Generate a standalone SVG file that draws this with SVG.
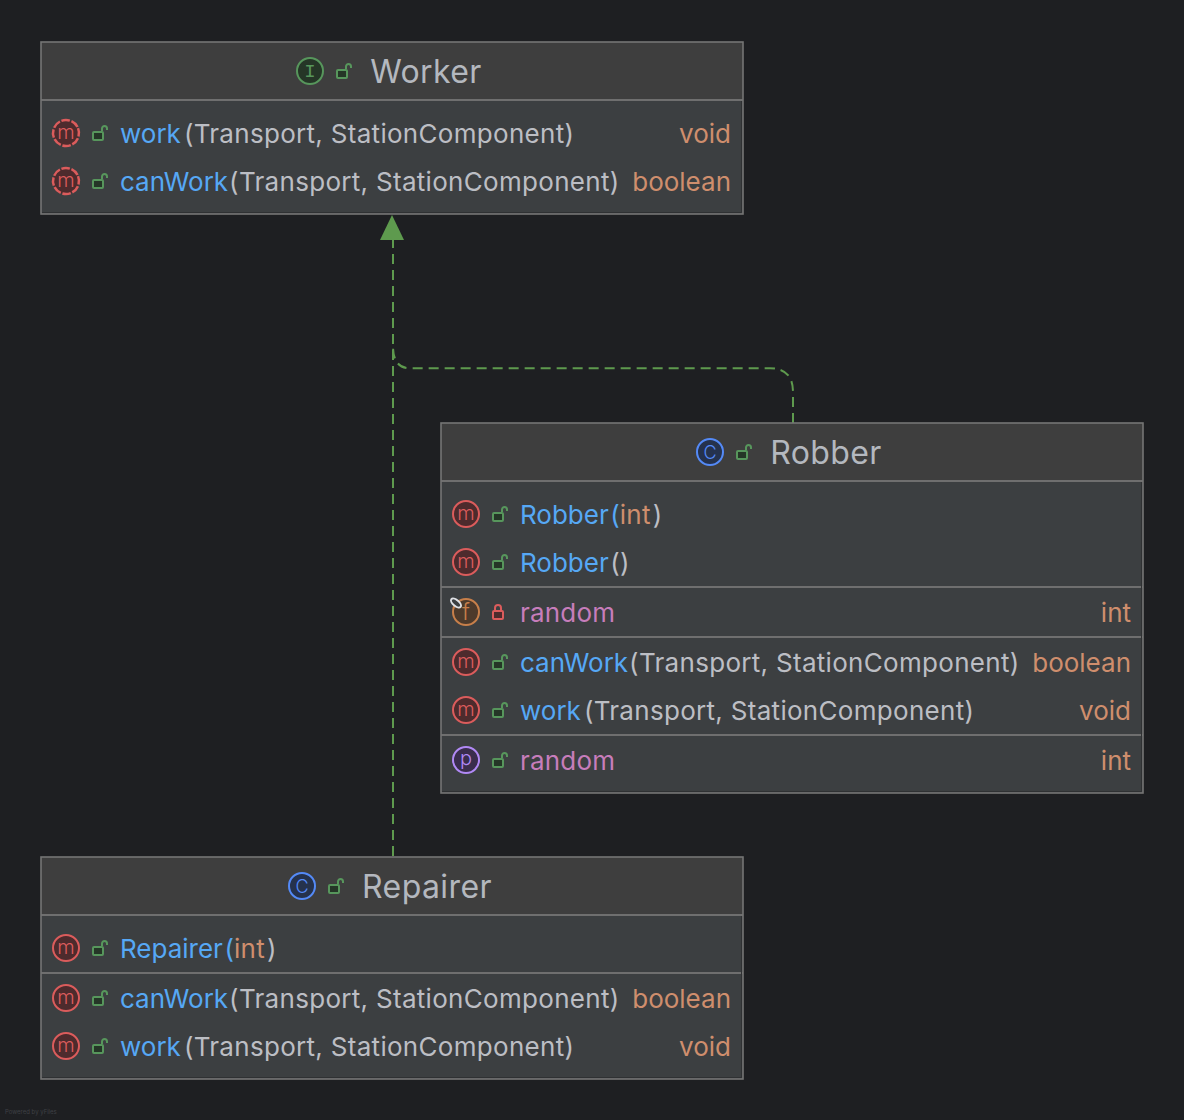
<svg xmlns="http://www.w3.org/2000/svg" width="1184" height="1120" viewBox="0 0 1184 1120">
<style>
text{font-family:Inter,"Liberation Sans",sans-serif;font-size:26px;fill:#bcbec4}
.t{font-size:32px;text-anchor:middle;fill:#b4b8bf;letter-spacing:.4px}
.p{letter-spacing:.3px}
.n{fill:#56a8f5;letter-spacing:0}.r{fill:#cf8e6d}.e{text-anchor:end}.f{fill:#c77dbb;letter-spacing:.2px}
.b{fill:#3c3f41;stroke:none}.h{fill:#3e3e3e}.o{fill:none;stroke:#757575;stroke-width:1.600}
.d{stroke:#6f6f6f;stroke-width:2}
.i{fill:none;stroke:#2f3133;stroke-width:1}
.g{font-size:20px;text-anchor:middle;font-weight:300}
.gm{fill:#db5c5c}.gc{fill:#548af7;font-size:18px}
.c{fill:none;stroke:#5e9a4e;stroke-width:2;stroke-dasharray:10 6}
</style>
<defs>
<g id="lock"><path d="M2 -3V-5.500a2.500 2.500 0 0 1 5 0V-4" fill="none" stroke="#57965c" stroke-width="2"/><rect x="-7" y="-2" width="10" height="8" rx="1" fill="#253627" stroke="#57965c" stroke-width="2"/></g>
<g id="m"><circle r="13" fill="#4d2b2d" stroke="#db5c5c" stroke-width="2"/><text class="g gm" y="6">m</text></g>
<g id="am"><circle r="13" fill="#4d2b2d" stroke="#db5c5c" stroke-width="2.500" stroke-dasharray="8.500 1.700" transform="rotate(-22)"/><text class="g gm" y="6">m</text></g>
</defs>
<rect width="1184" height="1120" fill="#1e1f22"/>
<g id="connectors">
<path class="c" d="M393 856V238"/>
<path class="c" d="M793 423V392Q793 368.300 770 368.300H410Q393 368.300 393 346"/>
<path d="M392 215L404 240H380Z" fill="#5e9a4e"/>
</g>
<g id="worker">
<rect class="b" x="41" y="42" width="702" height="172"/><rect class="h" x="41" y="42" width="702" height="58"/>
<path class="d" d="M41 100H743"/><path class="i" d="M741.500 101V212.500H42"/><rect class="o" x="41" y="42" width="702" height="172"/>
<circle cx="310" cy="71" r="13" fill="#253627" stroke="#57965c" stroke-width="2"/><text class="g" x="310" y="77" style="fill:#57965c;font-family:'Liberation Mono',monospace;font-size:19px;font-weight:400">I</text>
<use href="#lock" x="344" y="72"/><text class="t" x="426" y="83">Worker</text>
<use href="#am" x="66" y="133"/><use href="#lock" x="100" y="134"/>
<text class="p" x="120" y="143"><tspan class="n">work</tspan><tspan dx="3">(</tspan>Transport, StationComponent)</text><text class="r e" x="731" y="143">void</text>
<use href="#am" x="66" y="181"/><use href="#lock" x="100" y="182"/>
<text class="p" x="120" y="191"><tspan class="n">canWork</tspan><tspan dx="1">(</tspan>Transport, StationComponent)</text><text class="r e" x="731" y="191">boolean</text>
</g>
<g id="robber">
<rect class="b" x="441" y="423" width="702" height="370"/><rect class="h" x="441" y="423" width="702" height="58"/>
<path class="d" d="M441 481H1143M441 587H1143M441 637H1143M441 735H1143"/><path class="i" d="M1141.500 482V791.500H442"/><rect class="o" x="441" y="423" width="702" height="370"/>
<circle cx="710" cy="452" r="13" fill="#25324d" stroke="#548af7" stroke-width="2"/><text class="g gc" x="710" y="458.500">C</text>
<use href="#lock" x="744" y="453"/><text class="t" x="826" y="464">Robber</text>
<use href="#m" x="466" y="514"/><use href="#lock" x="500" y="515"/>
<text class="p" x="520" y="524"><tspan class="n">Robber</tspan><tspan class="n" dx="1.500">(</tspan><tspan class="r">int</tspan><tspan dx="2">)</tspan></text>
<use href="#m" x="466" y="562"/><use href="#lock" x="500" y="563"/>
<text class="p" x="520" y="572"><tspan class="n">Robber</tspan><tspan dx="1.500">()</tspan></text>
<circle cx="466" cy="612" r="13" fill="#4d3a2b" stroke="#c77f4a" stroke-width="2"/><text class="g" x="466" y="620" style="fill:#c77f4a;font-size:23px">f</text>
<path d="M452 600L459 605" stroke="#dfe1e5" stroke-width="2"/><ellipse cx="456" cy="603" rx="6" ry="3" transform="rotate(40 456 603)" fill="#3c3f41" stroke="#dfe1e5" stroke-width="2"/>
<rect x="493" y="611" width="10" height="8" rx="1" fill="#4d2b2d" stroke="#db5c5c" stroke-width="2"/><path d="M495 611V608a3 3 0 0 1 6 0V611" fill="none" stroke="#db5c5c" stroke-width="2"/>
<text class="f" x="520" y="622">random</text><text class="r e" x="1131" y="622">int</text>
<use href="#m" x="466" y="662"/><use href="#lock" x="500" y="663"/>
<text class="p" x="520" y="672"><tspan class="n">canWork</tspan><tspan dx="1">(</tspan>Transport, StationComponent)</text><text class="r e" x="1131" y="672">boolean</text>
<use href="#m" x="466" y="710"/><use href="#lock" x="500" y="711"/>
<text class="p" x="520" y="720"><tspan class="n">work</tspan><tspan dx="3">(</tspan>Transport, StationComponent)</text><text class="r e" x="1131" y="720">void</text>
<circle cx="466" cy="760" r="13" fill="#3a2d4d" stroke="#b189f5" stroke-width="2"/><text class="g" x="466" y="765" style="fill:#b189f5">p</text>
<use href="#lock" x="500" y="761"/>
<text class="f" x="520" y="770">random</text><text class="r e" x="1131" y="770">int</text>
</g>
<g id="repairer">
<rect class="b" x="41" y="857" width="702" height="222"/><rect class="h" x="41" y="857" width="702" height="58"/>
<path class="d" d="M41 915H743M41 973H743"/><path class="i" d="M741.500 916V1077.500H42"/><rect class="o" x="41" y="857" width="702" height="222"/>
<circle cx="302" cy="886" r="13" fill="#25324d" stroke="#548af7" stroke-width="2"/><text class="g gc" x="302" y="892.500">C</text>
<use href="#lock" x="336" y="887"/><text class="t" x="427" y="898">Repairer</text>
<use href="#m" x="66" y="948"/><use href="#lock" x="100" y="949"/>
<text class="p" x="120" y="958"><tspan class="n">Repairer</tspan><tspan class="n" dx="1.500">(</tspan><tspan class="r">int</tspan><tspan dx="2">)</tspan></text>
<use href="#m" x="66" y="998"/><use href="#lock" x="100" y="999"/>
<text class="p" x="120" y="1008"><tspan class="n">canWork</tspan><tspan dx="1">(</tspan>Transport, StationComponent)</text><text class="r e" x="731" y="1008">boolean</text>
<use href="#m" x="66" y="1046"/><use href="#lock" x="100" y="1047"/>
<text class="p" x="120" y="1056"><tspan class="n">work</tspan><tspan dx="3">(</tspan>Transport, StationComponent)</text><text class="r e" x="731" y="1056">void</text>
</g>
<text x="5" y="1114" style="font-size:6px;fill:#3f4045">Powered by yFiles</text>
</svg>
